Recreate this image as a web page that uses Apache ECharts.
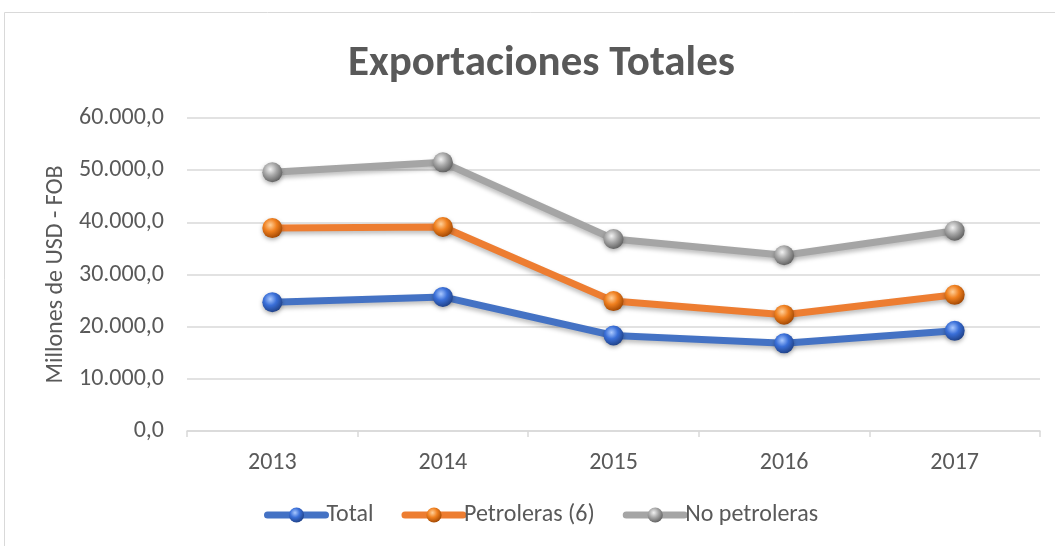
<!DOCTYPE html>
<html>
<head>
<meta charset="utf-8">
<script src="https://cdn.jsdelivr.net/npm/echarts@6/dist/echarts.min.js"></script>
<style>
html,body{margin:0;padding:0;background:#fff;}
#main{width:1055px;height:546px;}
</style>
</head>
<body>
<div id="main"></div>
<script>
// datos
var years = ['2013', '2014', '2015', '2016', '2017'];
var total = [24700, 25700, 18300, 16800, 19200];
var petroleras = [38900, 39100, 24900, 22300, 26100];
var noPetroleras = [49600, 51500, 36800, 33700, 38400];
var yTicks = [0, 10000, 20000, 30000, 40000, 50000, 60000];

var fontName = 'Carlito, "Liberation Sans Narrow", "Open Sans", sans-serif';

function fmt(v){
    // formato 60.000,0
    var s = Math.round(v).toString().replace(/\B(?=(\d{3})+(?!\d))/g, '.');
    return s + ',0';
}

function sphere(light, mid, dark){
    return {
        type:'radial', x:0.4, y:0.35, r:0.7,
        colorStops:[
            {offset:0, color:light},
            {offset:0.45, color:mid},
            {offset:1, color:dark}
        ]
    };
}

function mkSeries(name, data, lineColor, ball){
    return {
        name:name,
        type:'line',
        data:data,
        symbol:'circle',
        symbolSize:20,
        z: 3,
        lineStyle:{
            width:7,
            color:lineColor,
            shadowColor:'rgba(0,0,0,0.25)',
            shadowBlur:4,
            shadowOffsetY:3
        },
        itemStyle:{
            color:ball,
            borderWidth:0,
            shadowColor:'rgba(0,0,0,0.3)',
            shadowBlur:4,
            shadowOffsetY:2
        },
        emphasis:{disabled:true}
    };
}

var chart = echarts.init(document.getElementById('main'));
var option = {
    animation:false,
    backgroundColor:'#fff',
    textStyle:{fontFamily:fontName},
    graphic:[{
        type:'rect',
        shape:{x:4.5, y:12.5, width:1060, height:560},
        style:{fill:'none', stroke:'#d9d9d9', lineWidth:1}
    }],
    title:{
        text:'Exportaciones Totales',
        left:343,
        top:38,
        textStyle:{fontSize:43, fontWeight:'bold', color:'#595959', fontFamily:fontName}
    },
    legend:{
        bottom:14,
        left:259,
        itemWidth:58,
        itemHeight:19,
        itemGap:28,
        lineStyle:{width:7, cap:'round', shadowBlur:0},
        textStyle:{fontSize:24, color:'#595959', fontFamily:fontName, padding:[0,0,0,-4]},
        data:['Total','Petroleras (6)','No petroleras']
    },
    grid:{left:187, right:15, top:118, bottom:115},
    xAxis:{
        type:'category',
        data:years,
        boundaryGap:true,
        axisLine:{lineStyle:{color:'#d9d9d9', width:1.5}},
        axisTick:{show:true, length:6, lineStyle:{color:'#d9d9d9', width:1.5}},
        axisLabel:{fontSize:24, color:'#595959', margin:20, fontFamily:fontName}
    },
    yAxis:{
        type:'value',
        min:yTicks[0],
        max:yTicks[yTicks.length-1],
        interval:10000,
        name:'Millones de USD - FOB',
        nameLocation:'middle',
        nameGap:112,
        nameTextStyle:{fontSize:24, color:'#595959', fontFamily:fontName},
        axisLine:{show:false},
        axisTick:{show:false},
        axisLabel:{fontSize:24, color:'#595959', margin:23, formatter:fmt, fontFamily:fontName},
        splitLine:{lineStyle:{color:'#d9d9d9', width:1.5}}
    },
    series:[
        mkSeries('Total', total, '#4472c4', sphere('#a9c8ff', '#3a6fd8', '#1d3d80')),
        mkSeries('Petroleras (6)', petroleras, '#ed7d31', sphere('#ffd09a', '#f0801f', '#9a4200')),
        mkSeries('No petroleras', noPetroleras, '#a5a5a5', sphere('#f2f2f2', '#a8a8a8', '#5a5a5a'))
    ]
};
chart.setOption(option);
</script>
</body>
</html>
